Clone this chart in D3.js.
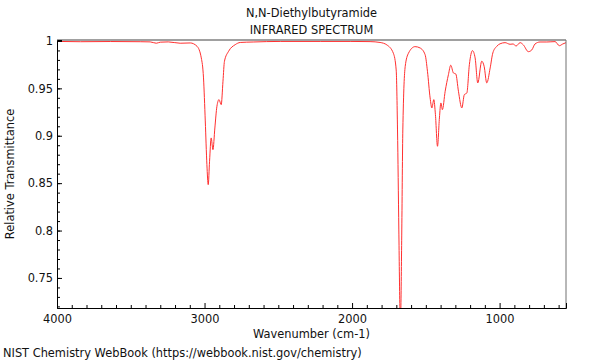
<!DOCTYPE html>
<html>
<head>
<meta charset="utf-8">
<script src="https://cdn.jsdelivr.net/npm/d3@7"></script>
<style>
  body { margin: 0; background: #fff; }
  text { font-family: "DejaVu Sans", sans-serif; fill: #111; }
</style>
</head>
<body>
<div id="chart"></div>
<script>
// Spectrum (wavenumber in cm-1, relative transmittance)
const wavenumbers = [4000, 3842, 3639, 3436, 3368, 3327, 3300, 3246, 3165, 3097, 3051, 3022, 3007, 2995,
    2984, 2975, 2966, 2955, 2943, 2930, 2916, 2902, 2887, 2875, 2865, 2837, 2792, 2758, 2670, 2487,
    2216, 2013, 1878, 1810, 1764, 1720, 1701, 1692, 1683, 1676, 1672, 1669, 1663, 1656, 1640, 1618,
    1573, 1539, 1505, 1489, 1471, 1459, 1446, 1435, 1421, 1408, 1398, 1388, 1369, 1347, 1331, 1313,
    1297, 1279, 1256, 1239, 1222, 1205, 1184, 1166, 1148, 1121, 1105, 1087, 1064, 1046, 1019, 997,
    963, 929, 909, 888, 861, 839, 805, 782, 760, 726, 680, 624, 595, 572, 550];
const transmittance = [0.9995, 0.9992, 0.9994, 0.9992, 0.999, 0.9976, 0.9987, 0.999, 0.9976, 0.9979,
    0.9944, 0.9821, 0.961, 0.9156, 0.8695, 0.8484, 0.8731, 0.8977, 0.8853, 0.9082, 0.9311, 0.9381,
    0.9328, 0.9575, 0.9786, 0.9891, 0.9961, 0.9984, 0.9989, 0.9995, 0.9995, 0.9995, 0.9993, 0.9984,
    0.9958, 0.987, 0.9694, 0.9061, 0.8006, 0.7197, 0.70, 0.7205, 0.8006, 0.9061, 0.9729, 0.987,
    0.994, 0.9926, 0.9855, 0.968, 0.9399, 0.9293, 0.9381, 0.9223, 0.8889, 0.9188, 0.9346, 0.9275,
    0.9469, 0.9644, 0.9744, 0.9662, 0.9652, 0.9469, 0.9293, 0.9434, 0.9451, 0.975, 0.9898, 0.9821,
    0.9557, 0.9786, 0.9733, 0.9557, 0.9715, 0.9873, 0.9944, 0.997, 0.9982, 0.9965, 0.9968, 0.9947,
    0.9982, 0.9958, 0.9887, 0.9905, 0.9968, 0.9989, 0.9989, 0.9993, 0.995, 0.9968, 0.9982];

const xTickValues = [4000, 3000, 2000, 1000];
const yTickValues = [0.75, 0.8, 0.85, 0.9, 0.95, 1];

const width = 600, height = 360;
const margin = { top: 40, right: 34, bottom: 52, left: 57 };
const plotW = width - margin.left - margin.right;
const plotH = height - margin.top - margin.bottom;
const fontSize = '11.4px';

const data = wavenumbers.map((w, i) => ({ w: w, t: transmittance[i] }));

const svg = d3.select('#chart')
    .append('svg')
    .attr('width', width)
    .attr('height', height);

const x = d3.scaleLinear().domain([4000, 550]).range([0, plotW]);
const y = d3.scaleLinear().domain([0.7183, 1.001]).range([plotH, 0]);

const g = svg.append('g')
    .attr('transform', `translate(${margin.left}, ${margin.top})`);

// Titles
svg.append('text')
    .attr('x', margin.left + plotW / 2).attr('y', 17)
    .attr('text-anchor', 'middle').style('font-size', fontSize)
    .text('N,N-Diethylbutyramide');
svg.append('text')
    .attr('x', margin.left + plotW / 2).attr('y', 34)
    .attr('text-anchor', 'middle').style('font-size', fontSize)
    .text('INFRARED SPECTRUM');

// Clip for the spectrum
svg.append('defs').append('clipPath').attr('id', 'plotClip')
    .append('rect').attr('width', plotW).attr('height', plotH);

g.append('path')
    .datum(data)
    .attr('clip-path', 'url(#plotClip)')
    .attr('fill', 'none')
    .attr('stroke', '#ff3030')
    .attr('stroke-width', 1)
    .attr('d', d3.line()
        .x(d => x(d.w))
        .y(d => y(d.t))
        .curve(d3.curveMonotoneX));

// Frame: top gray, right gray
g.append('line')
    .attr('x1', 0).attr('x2', plotW).attr('y1', 0).attr('y2', 0)
    .attr('stroke', '#a0a0a0').attr('stroke-width', 2);
g.append('line')
    .attr('x1', plotW).attr('x2', plotW).attr('y1', 0).attr('y2', plotH)
    .attr('stroke', '#707070').attr('stroke-width', 1);

// X axis, ticks pointing into the plot
const xAxis = g.append('g')
    .attr('transform', `translate(0, ${plotH})`)
    .call(d3.axisBottom(x).tickValues(xTickValues).tickSize(-5).tickPadding(7)
        .tickFormat(d => String(d)));
xAxis.append('g').selectAll('line')
    .data(d3.range(600, 4000, 100).filter(v => v % 1000 !== 0))
    .enter().append('line')
    .attr('x1', d => x(d) + 0.5).attr('x2', d => x(d) + 0.5)
    .attr('y1', 0).attr('y2', -3)
    .attr('stroke', '#000');

// Y axis
const yAxis = g.append('g')
    .call(d3.axisLeft(y).tickValues(yTickValues).tickSize(-5).tickPadding(4)
        .tickFormat(d => String(d)));
yAxis.append('g').selectAll('line')
    .data(d3.range(72, 100).map(v => v / 100))
    .enter().append('line')
    .attr('x1', 0).attr('x2', 3)
    .attr('y1', d => y(d) + 0.5).attr('y2', d => y(d) + 0.5)
    .attr('stroke', '#000');

[xAxis, yAxis].forEach(a => {
    a.select('.domain').attr('stroke', '#000');
    a.selectAll('text').style('font-size', fontSize).style('font-family', '"DejaVu Sans", sans-serif').attr('fill', '#111');
});

// Axis labels
svg.append('text')
    .attr('x', margin.left + plotW / 2).attr('y', 338)
    .attr('text-anchor', 'middle').style('font-size', fontSize)
    .text('Wavenumber (cm-1)');
svg.append('text')
    .attr('transform', `translate(14, ${margin.top + plotH / 2}) rotate(-90)`)
    .attr('text-anchor', 'middle').style('font-size', fontSize)
    .text('Relative Transmittance');

svg.append('text')
    .attr('x', 3).attr('y', 357)
    .style('font-size', fontSize)
    .text('NIST Chemistry WebBook (https://webbook.nist.gov/chemistry)');
</script>
</body>
</html>
